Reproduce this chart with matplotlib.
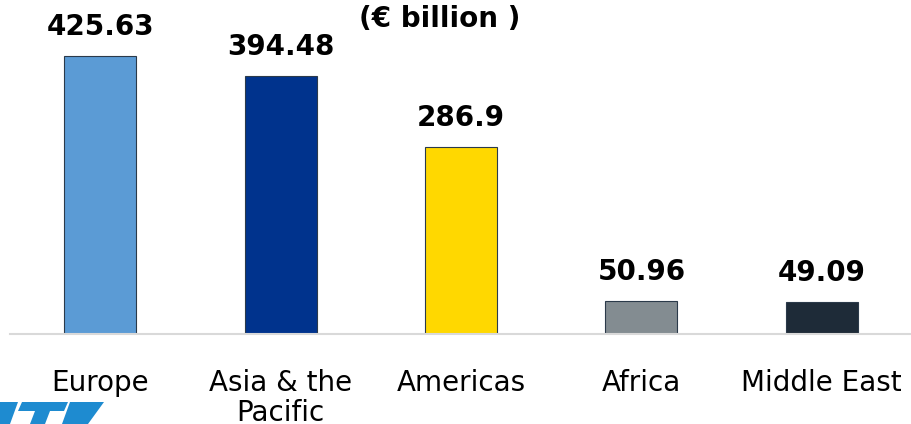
import matplotlib.pyplot as plt
from matplotlib.patches import Polygon

regions = ['Europe', 'Asia & the\nPacific', 'Americas', 'Africa', 'Middle East']
receipts = [425.63, 394.48, 286.9, 50.96, 49.09]
value_labels = ['425.63', '394.48', '286.9', '50.96', '49.09']
bar_colors = ['#5B9BD5', '#00338D', '#FFD800', '#838C91', '#1E2B38']

W, H = 912, 424
fig = plt.figure(figsize=(W / 100, H / 100), dpi=100)

# axes: baseline at y=334 px, 0.653 px per € billion
base_px = 334
px_per_unit = 0.653
ax = fig.add_axes([10 / W, (H - base_px) / H, (W - 10) / W, base_px / H])
ax.set_xlim(-0.5, 4.5)
ax.set_ylim(0, base_px / px_per_unit)

x = range(len(regions))
ax.bar(x, receipts, width=0.4, color=bar_colors, edgecolor='#2B3A4A', linewidth=0.8)

for xi, val, lab in zip(x, receipts, value_labels):
    ax.annotate(lab, (xi, val), xytext=(0, 21), textcoords='offset pixels',
                ha='center', va='baseline', fontsize=20, fontweight='bold')

for s in ['top', 'right', 'left']:
    ax.spines[s].set_visible(False)
ax.spines['bottom'].set_color('#D9D9D9')
ax.spines['bottom'].set_linewidth(1.5)
ax.set_yticks([])
ax.set_xticks(list(x))
ax.set_xticklabels(regions, fontsize=20, linespacing=1.12)
ax.tick_params(axis='x', length=0, pad=25)

fig.text(440 / W, 1 - 27 / H, '(€ billion )', ha='center', va='baseline',
         fontsize=20, fontweight='bold')

# corner logo fragment
logo_blue = '#1E8BD0'
logo_shapes = [
    [(0, 424), (0, 402), (18, 402), (10, 424)],
    [(22, 402), (68, 402), (64, 411), (50, 411), (45, 424), (30, 424), (35, 411), (18, 411)],
    [(70, 402), (104, 402), (88, 424), (62, 424)],
]
for pts in logo_shapes:
    fig.patches.append(Polygon([(px / W, 1 - py / H) for px, py in pts],
                               closed=True, transform=fig.transFigure,
                               facecolor=logo_blue, edgecolor='none'))

fig.savefig('out.png', dpi=100)
